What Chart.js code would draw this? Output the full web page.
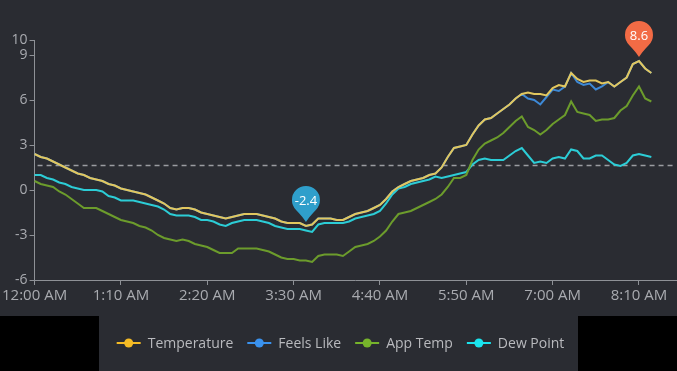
<!DOCTYPE html>
<html>
<head>
<meta charset="utf-8">
<script src="https://cdn.jsdelivr.net/npm/chart.js@4.4.1/dist/chart.umd.min.js"></script>
<style>
  html, body { margin: 0; padding: 0; background: #000; }
  canvas { display: block; }
</style>
</head>
<body>
<canvas id="chart" width="677" height="371"></canvas>
<script>
// ─── Data ─────────────────────────────────────────────────────────────────────

// 5-minute categories, 12:00 AM .. 8:40 AM (axis runs a bit past the last reading)
const timeLabels = [];
for (let m = 0; m <= 520; m += 5) {
  const h = Math.floor(m / 60), mm = m % 60;
  timeLabels.push((h === 0 ? 12 : h) + ':' + String(mm).padStart(2, '0') + ' AM');
}
const labelEvery = 14;
const yTicks = [-6, -3, 0, 3, 6, 9, 10];

const temperature = [
  2.4, 2.2, 2.1, 1.9, 1.7, 1.5, 1.3, 1.1, 1.0, 0.8,
  0.7, 0.6, 0.4, 0.3, 0.1, 0.0, -0.1, -0.2, -0.3, -0.5,
  -0.7, -0.9, -1.2, -1.3, -1.2, -1.2, -1.3, -1.5, -1.6, -1.7,
  -1.8, -1.9, -1.8, -1.7, -1.6, -1.6, -1.6, -1.7, -1.8, -1.9,
  -2.1, -2.2, -2.2, -2.2, -2.4, -2.3, -1.9, -1.9, -1.9, -2.0,
  -2.0, -1.8, -1.6, -1.5, -1.4, -1.2, -1.0, -0.6, -0.1, 0.2,
  0.4, 0.6, 0.7, 0.8, 1.0, 1.1, 1.5, 2.2, 2.8, 2.9,
  3.0, 3.7, 4.3, 4.7, 4.8, 5.1, 5.4, 5.7, 6.1, 6.4,
  6.5, 6.4, 6.4, 6.3, 6.8, 7.0, 6.9, 7.8, 7.4, 7.2,
  7.3, 7.3, 7.1, 7.2, 6.9, 7.2, 7.5, 8.4, 8.6, 8.1,
  7.8
];

const feelsLike = [
  2.4, 2.2, 2.1, 1.9, 1.7, 1.5, 1.3, 1.1, 1.0, 0.8,
  0.7, 0.6, 0.4, 0.3, 0.1, 0.0, -0.1, -0.2, -0.3, -0.5,
  -0.7, -0.9, -1.2, -1.3, -1.2, -1.2, -1.3, -1.5, -1.6, -1.7,
  -1.8, -1.9, -1.8, -1.7, -1.6, -1.6, -1.6, -1.7, -1.8, -1.9,
  -2.1, -2.2, -2.2, -2.2, -2.4, -2.3, -1.9, -1.9, -1.9, -2.0,
  -2.0, -1.8, -1.6, -1.5, -1.4, -1.2, -1.0, -0.6, -0.1, 0.2,
  0.4, 0.6, 0.7, 0.8, 1.0, 1.1, 1.5, 2.2, 2.8, 2.9,
  3.0, 3.7, 4.3, 4.7, 4.8, 5.1, 5.4, 5.7, 6.1, 6.4,
  6.1, 6.0, 5.7, 6.2, 6.7, 6.6, 6.9, 7.8, 7.2, 7.0,
  7.1, 6.7, 6.9, 7.2, 6.9, 7.2, 7.5, 8.4, 8.6, 8.1,
  7.8
];

const appTemp = [
  0.6, 0.4, 0.3, 0.2, -0.1, -0.3, -0.6, -0.9, -1.2, -1.2,
  -1.2, -1.4, -1.6, -1.8, -2.0, -2.1, -2.2, -2.4, -2.5, -2.7,
  -3.0, -3.2, -3.3, -3.4, -3.3, -3.4, -3.6, -3.7, -3.8, -4.0,
  -4.2, -4.2, -4.2, -3.9, -3.9, -3.9, -3.9, -4.0, -4.1, -4.3,
  -4.5, -4.6, -4.6, -4.7, -4.7, -4.8, -4.4, -4.3, -4.3, -4.3,
  -4.4, -4.1, -3.8, -3.7, -3.6, -3.4, -3.1, -2.7, -2.1, -1.6,
  -1.5, -1.4, -1.2, -1.0, -0.8, -0.6, -0.3, 0.2, 0.8, 0.8,
  1.0, 2.0, 2.7, 3.1, 3.3, 3.5, 3.8, 4.2, 4.6, 4.9,
  4.2, 4.0, 3.7, 4.0, 4.4, 4.7, 5.0, 5.9, 5.2, 5.1,
  5.0, 4.6, 4.7, 4.7, 4.8, 5.3, 5.6, 6.3, 6.9, 6.1,
  5.9
];

const dewPoint = [
  1.0, 1.0, 0.8, 0.7, 0.5, 0.4, 0.2, 0.1, 0.0, 0.0,
  0.0, -0.1, -0.4, -0.5, -0.7, -0.7, -0.7, -0.8, -0.9, -1.0,
  -1.1, -1.3, -1.6, -1.7, -1.7, -1.7, -1.8, -2.0, -2.0, -2.1,
  -2.3, -2.4, -2.2, -2.1, -2.0, -2.0, -2.0, -2.1, -2.2, -2.4,
  -2.5, -2.6, -2.6, -2.6, -2.7, -2.8, -2.3, -2.2, -2.2, -2.2,
  -2.2, -2.1, -1.9, -1.8, -1.7, -1.6, -1.4, -0.9, -0.3, 0.1,
  0.2, 0.4, 0.5, 0.6, 0.7, 0.9, 0.8, 0.9, 1.0, 1.1,
  1.2, 1.7, 2.0, 2.1, 2.0, 2.0, 2.0, 2.3, 2.6, 2.8,
  2.3, 1.8, 1.9, 1.8, 2.1, 2.2, 2.1, 2.7, 2.6, 2.1,
  2.1, 2.3, 2.3, 2.0, 1.7, 1.6, 1.8, 2.3, 2.4, 2.3,
  2.2
];

const seriesNames = ['Temperature', 'Feels Like', 'App Temp', 'Dew Point'];
const seriesData = [temperature, feelsLike, appTemp, dewPoint];
const lineColors = ['#e2c75e', '#3d89d6', '#6c9c2c', '#2ccdd6'];
const legendColors = ['#f4bb25', '#3a92ee', '#76b42b', '#1ae4ee'];

// ─── Styling ──────────────────────────────────────────────────────────────────

const BG = '#2a2c32';
const AXIS = '#8e9196';
const LABEL = '#a9abb0';
const FONT = "'Open Sans', sans-serif";

Chart.defaults.font.family = FONT;

// ─── Plugins ──────────────────────────────────────────────────────────────────

const backgroundPlugin = {
  id: 'panelBg',
  beforeDraw(chart) {
    const { ctx, width, height } = chart;
    ctx.save();
    ctx.fillStyle = BG;
    ctx.fillRect(0, 0, width, 316);
    ctx.fillStyle = '#000';
    ctx.fillRect(0, 316, width, height - 316);
    ctx.fillStyle = BG;
    ctx.fillRect(99, 316, 479, height - 316);
    ctx.restore();
  }
};

// dashed average line (markLine type: average on Temperature)
const averagePlugin = {
  id: 'avgLine',
  beforeDatasetsDraw(chart) {
    const avg = temperature.reduce((a, b) => a + b, 0) / temperature.length;
    const { ctx, chartArea } = chart;
    const y = Math.round(chart.scales.y.getPixelForValue(avg)) + 0.5;
    ctx.save();
    ctx.strokeStyle = '#9a9ca1';
    ctx.lineWidth = 1.5;
    ctx.setLineDash([5, 4]);
    ctx.beginPath();
    ctx.moveTo(chartArea.left + 3, y);
    ctx.lineTo(chartArea.right - 2, y);
    ctx.stroke();
    ctx.restore();
  }
};

function drawPin(ctx, x, y, color, text) {
  const r = 14, tipY = y - 4, cy = tipY - 22, a = Math.PI / 4;
  const sx = r * Math.sin(a), sy = r * Math.cos(a);
  ctx.save();
  ctx.fillStyle = color;
  ctx.beginPath();
  ctx.arc(x, cy, r, Math.PI / 2 + a, Math.PI / 2 - a);
  ctx.quadraticCurveTo(x + 3, cy + 17, x, tipY);
  ctx.quadraticCurveTo(x - 3, cy + 17, x - sx, cy + sy);
  ctx.closePath();
  ctx.fill();
  ctx.fillStyle = '#fff';
  ctx.font = '13px ' + FONT;
  ctx.textAlign = 'center';
  ctx.textBaseline = 'middle';
  ctx.fillText(text, x, cy + 1);
  ctx.restore();
}

// max / min pins on Temperature
const pinPlugin = {
  id: 'pins',
  afterDatasetsDraw(chart) {
    const { x: xs, y: ys } = chart.scales;
    const max = Math.max(...temperature), min = Math.min(...temperature);
    const iMax = temperature.indexOf(max), iMin = temperature.indexOf(min);
    drawPin(chart.ctx, xs.getPixelForValue(iMax), ys.getPixelForValue(max), '#f26b45', String(max));
    drawPin(chart.ctx, xs.getPixelForValue(iMin), ys.getPixelForValue(min), '#2f9fcb', String(min));
  }
};

const legendPlugin = {
  id: 'bottomLegend',
  afterDraw(chart) {
    const ctx = chart.ctx;
    const iconW = 24, textGap = 7, itemGap = 14, y = 343;
    ctx.save();
    ctx.font = '14px ' + FONT;
    const widths = seriesNames.map(n => ctx.measureText(n).width);
    const total = widths.reduce((s, w) => s + iconW + textGap + w, 0) + itemGap * (seriesNames.length - 1);
    let x = (chart.width - total) / 2 + 2;
    seriesNames.forEach((name, i) => {
      ctx.strokeStyle = legendColors[i];
      ctx.lineWidth = 2;
      ctx.beginPath();
      ctx.moveTo(x, y);
      ctx.lineTo(x + iconW, y);
      ctx.stroke();
      ctx.fillStyle = legendColors[i];
      ctx.beginPath();
      ctx.arc(x + iconW / 2, y, 4.5, 0, Math.PI * 2);
      ctx.fill();
      ctx.fillStyle = '#b9babe';
      ctx.textBaseline = 'middle';
      ctx.fillText(name, x + iconW + textGap, y + 1);
      x += iconW + textGap + widths[i] + itemGap;
    });
    ctx.restore();
  }
};

// ─── Chart ────────────────────────────────────────────────────────────────────

new Chart(document.getElementById('chart'), {
  type: 'line',
  data: {
    labels: timeLabels,
    datasets: seriesNames.map((name, i) => ({
      label: name,
      data: seriesData[i],
      borderColor: lineColors[i],
      borderWidth: 2,
      pointRadius: 0,
      tension: 0,
      fill: false,
    }))
  },
  options: {
    responsive: false,
    animation: false,
    layout: { padding: { top: 40, right: 1, bottom: 61, left: 0 } },
    plugins: {
      legend: { display: false },
      tooltip: { enabled: false },
    },
    scales: {
      x: {
        type: 'category',
        offset: false,
        afterBuildTicks: s => { s.ticks = s.ticks.filter((t, i) => i % labelEvery === 0); },
        afterFit: s => { s.height = 30; },
        grid: { drawOnChartArea: false, drawTicks: true, tickLength: 5, tickColor: AXIS },
        border: { display: true, color: AXIS, width: 1 },
        ticks: { autoSkip: false, maxRotation: 0, color: LABEL, font: { size: 15 }, padding: 2 },
      },
      y: {
        min: -6,
        max: 10,
        afterBuildTicks: s => { s.ticks = yTicks.map(v => ({ value: v })); },
        afterFit: s => { s.width = 34; },
        grid: { drawOnChartArea: false, drawTicks: true, tickLength: 5, tickColor: AXIS },
        border: { display: true, color: AXIS, width: 1 },
        ticks: { color: LABEL, font: { size: 14 }, padding: 2 },
      }
    }
  },
  plugins: [backgroundPlugin, averagePlugin, pinPlugin, legendPlugin]
});
</script>
</body>
</html>
